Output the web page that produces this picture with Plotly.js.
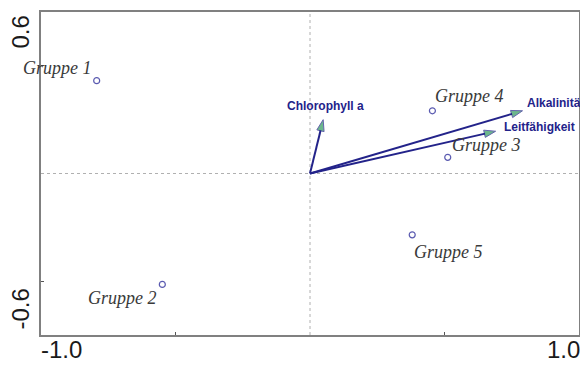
<!DOCTYPE html>
<html>
<head>
<meta charset="utf-8">
<script src="https://cdn.plot.ly/plotly-3.0.1.min.js"></script>
<style>
  html, body { margin: 0; padding: 0; background: #fff; }
  #chart { width: 580px; height: 367px; }
</style>
</head>
<body>
<div id="chart"></div>
<script>
// Sample scores (groups)
const groupNames = ['Gruppe 1', 'Gruppe 2', 'Gruppe 3', 'Gruppe 4', 'Gruppe 5'];
const groupX = [-0.793, -0.549, 0.512, 0.455, 0.380];
const groupY = [0.345, -0.412, 0.060, 0.233, -0.228];

// Environmental variables (biplot arrows)
const envNames = ['Chlorophyll a', 'Alkalinität', 'Leitfähigkeit'];
const envX = [0.049, 0.790, 0.690];
const envY = [0.200, 0.233, 0.157];

// Axis end labels
const xEndValues = [-1.0, 1.0];
const xEndLabels = ['-1.0', '1.0'];
const yEndValues = [0.6, -0.6];
const yEndLabels = ['0.6', '-0.6'];

// Label placement relative to each mark (pixels)
const groupLabelShift = [
  { dx: -39, dy: 13 },
  { dx: -40, dy: -14 },
  { dx: 39, dy: 12 },
  { dx: 37, dy: 15 },
  { dx: 36, dy: -17 }
];
const envLabelStyle = [
  { dx: 2, dy: 14, anchor: 'center' },
  { dx: 2, dy: 8, anchor: 'left' },
  { dx: 6, dy: 4, anchor: 'left' }
];

const navy = '#23238a';
const arrowFill = '#2f9a5c';
const frameColor = '#808080';

const traces = [];

// Arrows from the origin to each variable's tip
envNames.forEach(function (name, i) {
  traces.push({
    type: 'scatter',
    mode: 'lines+markers',
    x: [0, envX[i]],
    y: [0, envY[i]],
    line: { color: navy, width: 2 },
    marker: {
      symbol: ['circle', 'arrow'],
      size: [0, 12],
      angleref: 'previous',
      color: arrowFill,
      line: { color: navy, width: 1 }
    },
    hoverinfo: 'skip',
    showlegend: false,
    cliponaxis: false
  });
});

// Group points
traces.push({
  type: 'scatter',
  mode: 'markers',
  x: groupX,
  y: groupY,
  marker: { symbol: 'circle-open', size: 6, color: '#5a5ab0', line: { width: 1.2 } },
  hoverinfo: 'skip',
  showlegend: false
});

const annotations = [];

groupNames.forEach(function (name, i) {
  annotations.push({
    x: groupX[i], y: groupY[i], xref: 'x', yref: 'y',
    text: name, showarrow: false,
    xshift: groupLabelShift[i].dx, yshift: groupLabelShift[i].dy,
    font: { family: 'Liberation Serif, Times New Roman, serif', size: 18, color: '#3a3a3a', style: 'italic' }
  });
});

envNames.forEach(function (name, i) {
  annotations.push({
    x: envX[i], y: envY[i], xref: 'x', yref: 'y',
    text: '<b>' + name + '</b>', showarrow: false,
    xanchor: envLabelStyle[i].anchor,
    xshift: envLabelStyle[i].dx, yshift: envLabelStyle[i].dy,
    font: { family: 'Liberation Sans, Arial, sans-serif', size: 12, color: navy }
  });
});

const tickFont = { family: 'Liberation Sans, Arial, sans-serif', size: 24, color: '#1a1a1a' };

xEndValues.forEach(function (v, i) {
  annotations.push({
    x: v, y: 0, xref: 'x', yref: 'paper',
    text: xEndLabels[i], showarrow: false,
    xanchor: i === 0 ? 'left' : 'right', yanchor: 'middle',
    xshift: i === 0 ? -2 : 3, yshift: -14,
    font: tickFont
  });
});

yEndValues.forEach(function (v, i) {
  annotations.push({
    x: 0, y: v, xref: 'paper', yref: 'y',
    text: yEndLabels[i], showarrow: false, textangle: -90,
    xanchor: 'center', yanchor: i === 0 ? 'top' : 'bottom',
    xshift: -21, yshift: i === 0 ? -2 : 3,
    font: tickFont
  });
});

const layout = {
  width: 580,
  height: 367,
  margin: { l: 41, r: 1, t: 12, b: 32 },
  paper_bgcolor: '#ffffff',
  plot_bgcolor: '#ffffff',
  showlegend: false,
  xaxis: {
    range: [-1, 1],
    showgrid: false,
    zeroline: false,
    showline: true, mirror: true, linecolor: frameColor, linewidth: 2,
    tickvals: [-0.5, 0.5],
    ticks: 'inside', ticklen: 3, tickcolor: '#555', tickwidth: 1,
    showticklabels: false,
    fixedrange: true
  },
  yaxis: {
    range: [-0.6, 0.6],
    showgrid: false,
    zeroline: false,
    showline: true, mirror: true, linecolor: frameColor, linewidth: 2,
    tickvals: [-0.4, 0.4],
    ticks: 'inside', ticklen: 3, tickcolor: '#555', tickwidth: 1,
    showticklabels: false,
    fixedrange: true
  },
  shapes: [
    { type: 'line', xref: 'paper', yref: 'y', x0: 0, x1: 1, y0: 0, y1: 0,
      line: { color: '#b0b0b0', width: 1, dash: 'dot' }, layer: 'below' },
    { type: 'line', xref: 'x', yref: 'paper', x0: 0, x1: 0, y0: 0, y1: 1,
      line: { color: '#b0b0b0', width: 1, dash: 'dot' }, layer: 'below' }
  ],
  annotations: annotations
};

Plotly.newPlot('chart', traces, layout, { staticPlot: true, displayModeBar: false });
</script>
</body>
</html>
